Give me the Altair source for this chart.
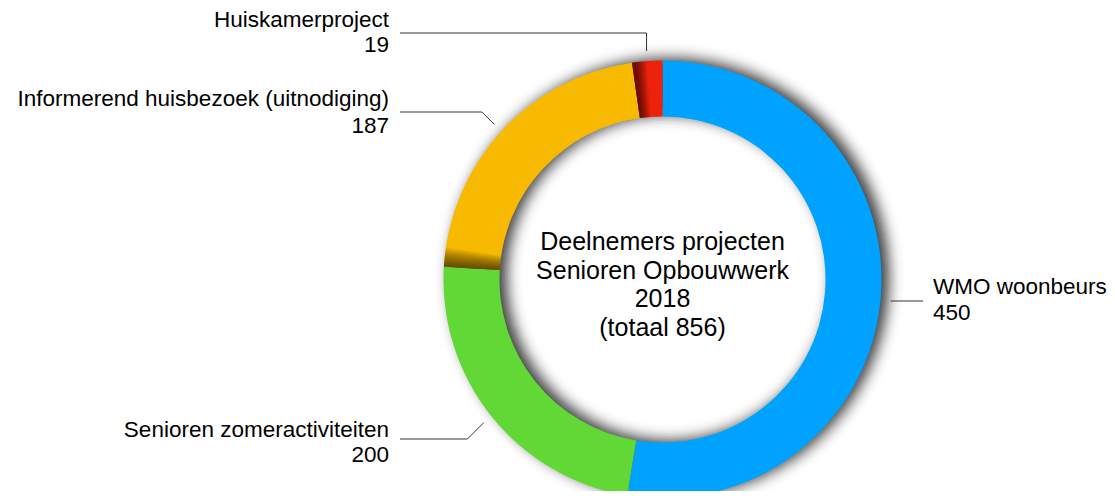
import math
import pandas as pd
import altair as alt

# ---------------- data ----------------
categories = ["WMO woonbeurs", "Senioren zomeractiviteiten",
              "Informerend huisbezoek (uitnodiging)", "Huiskamerproject"]
values = [450, 200, 187, 19]
colors = ["#00A2FF", "#61D836", "#F8BA00", "#EE220C"]
center_lines = ["Deelnemers projecten", "Senioren Opbouwwerk", "2018", "(totaal 856)"]

# ---------------- layout (pixels) ----------------
W, H = 1099, 483
OFF = 8
CX, CY = 662.5 - OFF, 279.5 - OFF
R_OUT, R_IN = 219, 163
FONT = "Helvetica Neue, Helvetica, Liberation Sans, Arial, sans-serif"
LABEL_SIZE = 22.5
CENTER_SIZE = 25

# per category: (text x, baseline line1, baseline line2, align, leader y, leader start x, kind)
label_layout = {
    "WMO woonbeurs": (933, 294, 320, "left", 301, 923, "flat"),
    "Senioren zomeractiviteiten": (389, 437, 462, "right", 439, 400, "diag"),
    "Informerend huisbezoek (uitnodiging)": (389, 106, 133, "right", 112, 400, "diag"),
    "Huiskamerproject": (389, 27, 52, "right", 33, 400, "vert"),
}
center_baselines = [250, 278.5, 307, 335.5]

# shadow style
SH_DX, SH_DY = 7, -2
SH_SIGMA = 7.0
SH_AMP = 0.75

total = sum(values)
theta_scale = alt.Scale(domain=[0, total], range=[0, 2 * math.pi])

rows = []
cum = 0
for c, v in zip(categories, values):
    rows.append(dict(cat=c, start=cum, end=cum + v, mid=cum + v / 2, value=v))
    cum += v
arc_df = pd.DataFrame(rows)

base = alt.Chart(pd.DataFrame({"a": [0]}))

# ---- soft (gaussian-like) drop shadow built from stacked translucent rings ----
def target(d):
    return SH_AMP * 0.5 * (1 - math.erf(d / (SH_SIGMA * math.sqrt(2))))

step = 1.5
s_vals = [-21 + step * k for k in range(int(45 / step) + 1)]
alphas = []
for k, s in enumerate(s_vals):
    t_here = target(s - step / 2)
    t_next = target(s_vals[k + 1] - step / 2) if k + 1 < len(s_vals) else 0.0
    a = 1 - (1 - t_here) / (1 - t_next)
    alphas.append(max(a, 0.0))

shadow_layers = []
for s, a in zip(s_vals, alphas):
    if a < 0.002:
        continue
    shadow_layers.append(
        base.mark_arc(theta=0, theta2=2 * math.pi, radius=R_OUT + s, radius2=max(R_IN - s, 0),
                      fill="black", fillOpacity=round(a, 4), stroke=None)
        .encode(x=alt.value(CX + SH_DX), y=alt.value(CY + SH_DY))
    )

main = alt.Chart(arc_df).mark_arc(radius=R_OUT, radius2=R_IN, stroke=None).encode(
    theta=alt.Theta("start:Q", scale=theta_scale, stack=None),
    theta2="end:Q",
    color=alt.Color("cat:N", scale=alt.Scale(domain=categories, range=colors), legend=None),
    x=alt.value(CX), y=alt.value(CY),
)

# shading at the start edge of the two slices that sit "under" their neighbour
shade_rows = []
shade_width = {"Informerend huisbezoek (uitnodiging)": 12, "Huiskamerproject": 9}
n_sh = 12
for r in rows:
    if r["cat"] in shade_width:
        for j in range(n_sh):
            shade_rows.append(dict(start=r["start"],
                                   end=r["start"] + shade_width[r["cat"]] * (j + 1) / n_sh))
shade_df = pd.DataFrame(shade_rows)
shade = alt.Chart(shade_df).mark_arc(radius=R_OUT, radius2=R_IN, fill="black",
                                     fillOpacity=0.065, stroke=None).encode(
    theta=alt.Theta("start:Q", scale=theta_scale, stack=None),
    theta2="end:Q",
    x=alt.value(CX), y=alt.value(CY),
)

# leader lines, ending on each slice's mid angle
lead_rows = []
for r in rows:
    tx, b1, b2, align, hy, x0, kind = label_layout[r["cat"]]
    ang = 2 * math.pi * r["mid"] / total
    ex = CX + (R_OUT + 10) * math.sin(ang)
    ey = CY - (R_OUT + 10) * math.cos(ang)
    hy -= OFF
    x0 -= OFF
    if kind == "flat":
        pts = [(x0, hy), (ex, hy)]
    elif kind == "vert":
        pts = [(x0, hy), (ex, hy), (ex, ey)]
    else:
        elbow_x = ex - abs(hy - ey)
        pts = [(x0, hy), (elbow_x, hy), (ex, ey)]
    for i, (px, py) in enumerate(pts):
        lead_rows.append(dict(cat=r["cat"], o=i, px=px, py=py))
lead_df = pd.DataFrame(lead_rows)
leaders = alt.Chart(lead_df).mark_line(color="#333333", strokeWidth=1).encode(
    x=alt.X("px:Q", scale=None, axis=None),
    y=alt.Y("py:Q", scale=None, axis=None),
    detail="cat:N",
    order="o:Q",
)

lab_rows = []
for r in rows:
    tx, b1, b2, align, hy, x0, kind = label_layout[r["cat"]]
    lab_rows.append(dict(t=r["cat"], px=tx - OFF, py=b1 - OFF, al=align))
    lab_rows.append(dict(t=str(r["value"]), px=tx - OFF, py=b2 - OFF, al=align))
lab_df = pd.DataFrame(lab_rows)


def text_layer(df, align, size):
    return alt.Chart(df).mark_text(align=align, baseline="alphabetic", font=FONT,
                                   fontSize=size, color="#000000").encode(
        x=alt.X("px:Q", scale=None, axis=None),
        y=alt.Y("py:Q", scale=None, axis=None),
        text="t:N",
    )


labels_left = text_layer(lab_df[lab_df.al == "right"], "right", LABEL_SIZE)
labels_right = text_layer(lab_df[lab_df.al == "left"], "left", LABEL_SIZE)

center_df = pd.DataFrame(dict(t=center_lines, px=[CX] * len(center_lines),
                              py=[b - OFF for b in center_baselines]))
center = text_layer(center_df, "center", CENTER_SIZE)

chart = alt.layer(*shadow_layers, main, shade, leaders, labels_left, labels_right, center).properties(
    width=W, height=H, padding=0, autosize="none", background="white"
).configure_view(stroke=None)

chart.save("out.html", embed_options={"renderer": "svg", "actions": False})
